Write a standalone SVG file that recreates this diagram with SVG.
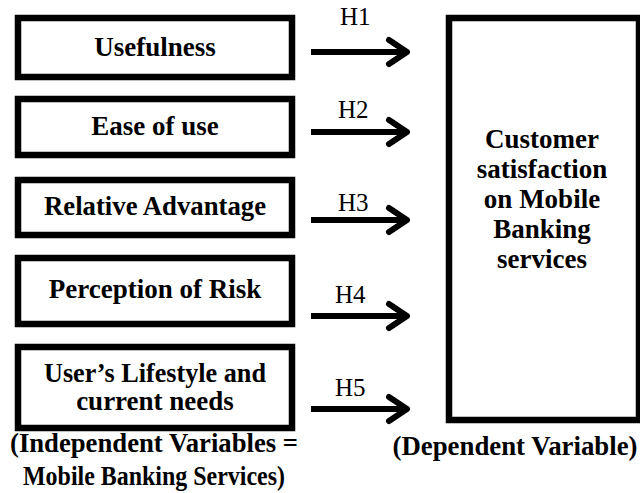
<svg xmlns="http://www.w3.org/2000/svg" width="640" height="493" viewBox="0 0 640 493">
<style>
.box{fill:#fff;stroke:#000;stroke-width:6.5}
.t{font-family:"Liberation Serif","Times New Roman",serif;font-weight:bold;font-size:27px;fill:#000;text-anchor:middle}
.h{font-family:"Liberation Serif","Times New Roman",serif;font-size:25px;fill:#000}
.shaft{stroke:#000;stroke-width:6;fill:none}
.head{stroke:#000;stroke-width:6;fill:none;stroke-linecap:round;stroke-linejoin:round}
</style>
<rect width="640" height="493" fill="#fff"/>
<g id="usefulness"><rect class="box" x="18" y="18" width="274" height="59"/><text class="t" x="155" y="56">Usefulness</text></g>
<g id="ease"><rect class="box" x="18" y="99" width="274" height="56"/><text class="t" x="155" y="135">Ease of use</text></g>
<g id="relative"><rect class="box" x="18" y="180" width="274" height="55"/><text class="t" x="155" y="215" textLength="222" lengthAdjust="spacingAndGlyphs">Relative Advantage</text></g>
<g id="risk"><rect class="box" x="18" y="258" width="274" height="66"/><text class="t" x="155" y="298">Perception of Risk</text></g>
<g id="lifestyle"><rect class="box" x="18" y="347" width="274" height="81"/><text class="t" x="155" y="382" textLength="222" lengthAdjust="spacingAndGlyphs">User’s Lifestyle and</text><text class="t" x="155" y="410">current needs</text></g>
<g id="satisfaction"><rect class="box" x="449" y="18" width="190" height="402"/>
<text class="t" x="542" y="148">Customer</text>
<text class="t" x="542" y="178">satisfaction</text>
<text class="t" x="542" y="208">on Mobile</text>
<text class="t" x="542" y="238">Banking</text>
<text class="t" x="542" y="268">services</text></g>
<g id="labels">
<text class="t" x="154" y="452" textLength="288" lengthAdjust="spacingAndGlyphs">(Independent Variables =</text>
<text class="t" x="154" y="485" textLength="262" lengthAdjust="spacingAndGlyphs">Mobile Banking Services)</text>
<text class="t" x="515" y="455" textLength="245" lengthAdjust="spacingAndGlyphs">(Dependent Variable)</text>
</g>
<g id="connectors">
<line class="shaft" x1="311" y1="52" x2="405" y2="52"/><polyline class="head" points="389,40 407,52 389,64"/>
<line class="shaft" x1="311" y1="132" x2="405" y2="132"/><polyline class="head" points="389,120 407,132 389,144"/>
<line class="shaft" x1="311" y1="220" x2="405" y2="220"/><polyline class="head" points="389,208 407,220 389,232"/>
<line class="shaft" x1="311" y1="316" x2="405" y2="316"/><polyline class="head" points="389,304 407,316 389,328"/>
<line class="shaft" x1="311" y1="409" x2="405" y2="409"/><polyline class="head" points="389,397 407,409 389,421"/>
<text class="h" x="340" y="25">H1</text>
<text class="h" x="338" y="118">H2</text>
<text class="h" x="338" y="211">H3</text>
<text class="h" x="335" y="303">H4</text>
<text class="h" x="335" y="396">H5</text>
</g>
</svg>
